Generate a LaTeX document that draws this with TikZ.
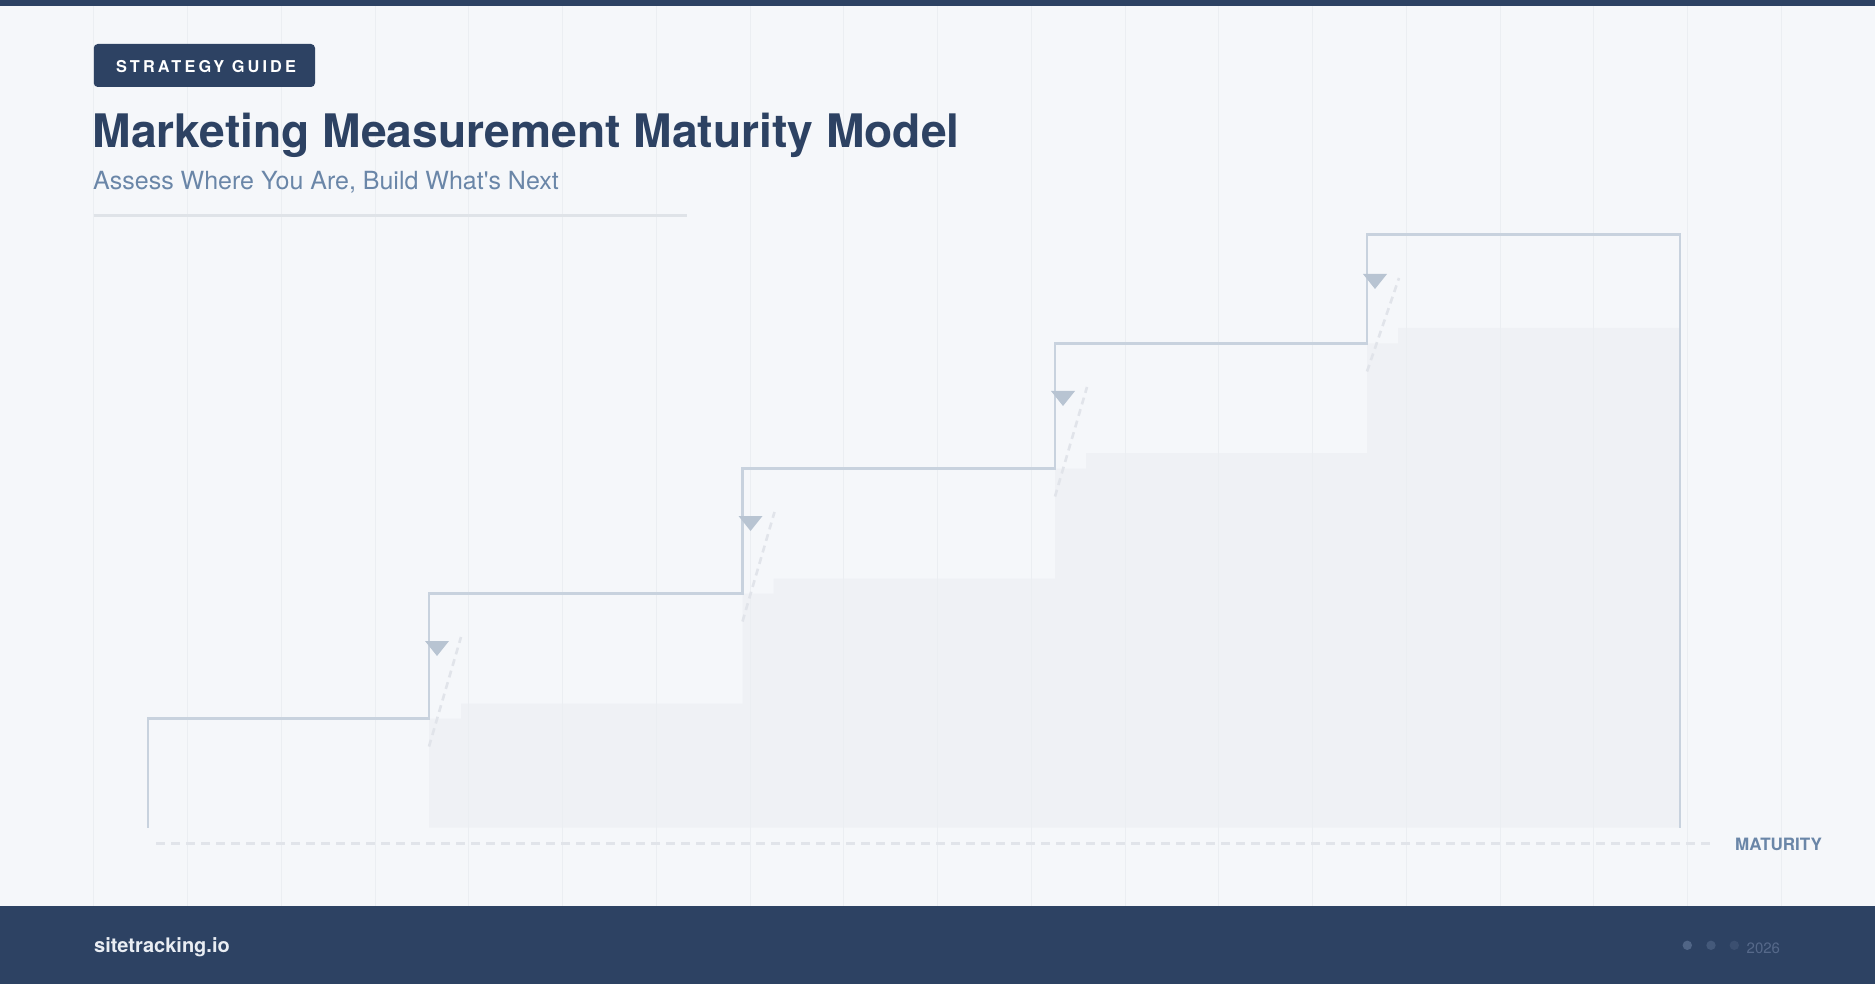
\documentclass[tikz,border=0pt]{standalone}
\usepackage{fontspec}
\setmainfont{TeX Gyre Heros}
\definecolor{bg}{HTML}{F5F7FA}
\definecolor{navy}{HTML}{2D4263}
\definecolor{subt}{HTML}{6A86A8}
\definecolor{gridc}{HTML}{EBEEF2}
\definecolor{divc}{HTML}{DFE3E8}
\definecolor{shadec}{HTML}{EFF1F5}
\definecolor{stepc}{HTML}{C8D2DE}
\definecolor{tric}{HTML}{B8C4D2}
\definecolor{dashc}{HTML}{E1E4EA}
\definecolor{foottext}{HTML}{E9EDF3}
\definecolor{dotA}{HTML}{506586}
\definecolor{dotB}{HTML}{44597A}
\definecolor{dotC}{HTML}{3B4F70}
\definecolor{yearc}{HTML}{56698A}
\tikzset{
  gridline/.style={draw=gridc, line width=1pt},
  stepline/.style={draw=stepc, line width=2.5pt, line join=miter},
  tri/.style={fill=tric, draw=none},
  diagdash/.style={draw=dashc, line width=2.6pt, dash pattern=on 7pt off 5pt},
  axisdash/.style={draw=dashc, line width=3pt, dash pattern=on 9pt off 6pt},
  txt/.style={inner sep=0pt, anchor=base west},
}
\begin{document}
\begin{tikzpicture}[x=1pt,y=-1pt]
\useasboundingbox (0,0) rectangle (1875,984);
% background
\fill[bg] (0,0) rectangle (1875,984);
% shaded area under steps
\fill[shadec] (429,827.5) -- (429,718.5) -- (461,718.5) -- (461,703.5) -- (742.5,703.5) -- (742.5,593.5) -- (773.5,593.5) -- (773.5,578.5) -- (1055,578.5) -- (1055,468.5) -- (1086,468.5) -- (1086,453) -- (1367,453) -- (1367,343.5) -- (1398,343.5) -- (1398,328) -- (1680,328) -- (1680,827.5) -- cycle;
% grid
\foreach \k in {1,...,19} {
  \draw[gridline] (93.75*\k,6) -- (93.75*\k,906);
}
% top bar
\fill[navy] (0,0) rectangle (1875,6);
% header
\fill[navy, rounded corners=4pt] (93.75,44) rectangle (315,87);
\node[inner sep=0pt, anchor=base, text=white] (badge) at (206,73)
  {\fontsize{16.3}{19}\selectfont\bfseries\addfontfeature{LetterSpace=19}STRATEGY GUIDE};
\node[txt, text=navy] (title) at (92.5,148)
  {\fontsize{46.2}{52}\selectfont\bfseries Marketing Measurement Maturity Model};
\node[txt, text=subt] (subtitle) at (93,190)
  {\fontsize{25}{29}\selectfont\addfontfeature{Ligatures=TeXOff}Assess Where You Are, Build What's Next};
\draw[divc, line width=3pt] (93.75,215.5) -- (687,215.5);
% step line
\coordinate (s0) at (148,827.5);
\coordinate (s1) at (148,718.5);
\coordinate (s2) at (429,718.5);
\coordinate (s3) at (429,593.5);
\coordinate (s4) at (742.5,593.5);
\coordinate (s5) at (742.5,468.5);
\coordinate (s6) at (1055,468.5);
\coordinate (s7) at (1055,343.5);
\coordinate (s8) at (1367,343.5);
\coordinate (s9) at (1367,234.5);
\coordinate (s10) at (1680,234.5);
\coordinate (s11) at (1680,827.5);
\draw[stepline] (s0) -- (s1) -- (s2) -- (s3) -- (s4) -- (s5) -- (s6) -- (s7) -- (s8) -- (s9) -- (s10) -- (s11);
% dashed diagonals
\draw[diagdash] (429,746.5) -- (461,637);
\draw[diagdash] (742.5,621.5) -- (774.5,512);
\draw[diagdash] (1055,496.5) -- (1087,387);
\draw[diagdash] (1367,371.5) -- (1399,278);
% triangles
\fill[tri] (425,641) -- (449,641) -- (437,656) -- cycle;
\fill[tri] (738.5,516) -- (762.5,516) -- (750.5,531) -- cycle;
\fill[tri] (1051,391) -- (1075,391) -- (1063,406) -- cycle;
\fill[tri] (1363,274) -- (1387,274) -- (1375,289) -- cycle;
% axis
\coordinate (ax0) at (156,843);
\coordinate (ax1) at (1712,843);
\draw[axisdash] (ax0) -- (ax1);
\node[txt, text=subt] (mat) at (1735,850.7)
  {\fontsize{17}{20}\selectfont\bfseries MATURITY};
% footer
\fill[navy] (0,906) rectangle (1875,984);
\node[txt, text=foottext] (site) at (94,952.7)
  {\fontsize{20}{24}\selectfont\bfseries sitetracking.io};
\fill[dotA] (1687.3,945.3) circle (4.7);
\fill[dotB] (1711,945.3) circle (4.7);
\fill[dotC] (1734.3,945.3) circle (4.7);
\node[txt, text=yearc] (year) at (1746.5,953.3)
  {\fontsize{15}{18}\selectfont 2026};
\end{tikzpicture}
\end{document}
